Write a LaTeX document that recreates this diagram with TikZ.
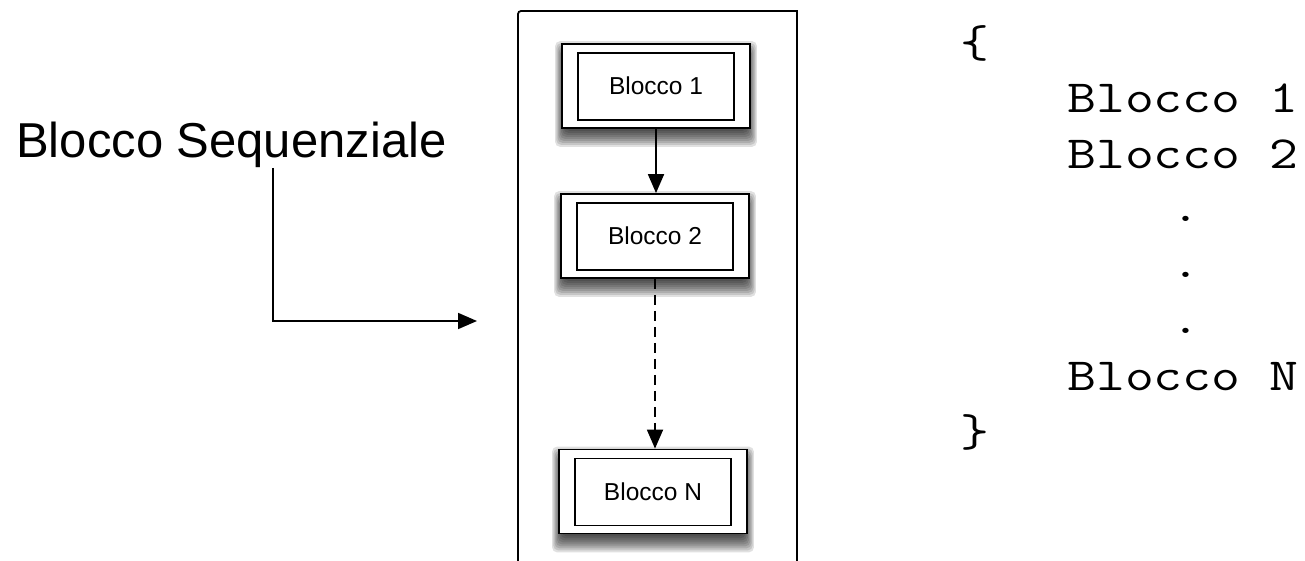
\documentclass[tikz,border=0pt]{standalone}
\usepackage{fontspec}
\setmainfont{Liberation Sans}
\newfontfamily\codefont[FakeStretch=1.22]{Latin Modern Mono}
\usetikzlibrary{arrows.meta,calc}
\pgfdeclarelayer{background}
\pgfsetlayers{background,main}

% soft drop shadow under a block, strongest below it
\newcommand{\blockshadow}[1]{%
  \foreach \k in {0,...,10}{%
    \pgfmathsetmacro\e{10-2*\k}%
    \pgfmathsetmacro\h{0.6*\e}%
    \fill[black,opacity=0.12,rounded corners=5pt]
      ($(#1.north west)+(-\h,-\e+8)$) rectangle ($(#1.south east)+(\h,\e+8)$);
  }%
}

\tikzset{
  blockbox/.style={draw, line width=1.8pt, fill=white, inner sep=0pt,
    minimum width=188pt, minimum height=84pt,
    font=\fontsize{24.5}{28}\selectfont,
    path picture={\draw[line width=1.4pt]
      ($(path picture bounding box.north west)+(16pt,-9pt)$) rectangle
      ($(path picture bounding box.south east)+(-16pt,8pt)$);}},
  conn/.style={line width=1.8pt, -{Triangle[length=19pt,width=16pt]}},
  dashconn/.style={conn, dash pattern=on 10pt off 6pt},
  frame/.style={line width=1.8pt},
  code/.style={anchor=base west, inner sep=0pt, font=\codefont\fontsize{46}{55.5}\selectfont},
  title/.style={anchor=base west, inner sep=0pt, font=\fontsize{49}{56}\selectfont}
}

\begin{document}
\begin{tikzpicture}[x=1pt,y=-1pt]
  \useasboundingbox (0,0) rectangle (1305,561);
  \clip (0,0) rectangle (1305,561);

  % container of the sequential block (open at the bottom)
  \draw[frame] (518,575) [rounded corners=3pt]-- (518,11) [sharp corners]-- (797,11) -- (797,575);

  % blocks
  \node[blockbox] (b1) at (656,86) {Blocco 1};
  \node[blockbox] (b2) at (655,236) {Blocco 2};
  \node[blockbox] (bN) at (653,491.5) {Blocco N};

  \begin{pgfonlayer}{background}
    \blockshadow{b1}
    \blockshadow{b2}
    \blockshadow{bN}
  \end{pgfonlayer}

  \draw[conn] (b1.south) -- (b1.south |- b2.north);
  \draw[dashconn] (b2.south) -- (b2.south |- bN.north);

  % label with its pointer
  \node[title] (lbl) at (16,158) {Blocco Sequenziale};
  \coordinate (lstart) at (273,168);
  \coordinate (lend) at (477,321);
  \draw[conn] (lstart) |- (lend);

  % code listing
  \node[code] (c0) at (960,57.5) {\{};
  \node[code] (c1) at (1067,113) {Blocco 1};
  \node[code] (c2) at (1067,168.5) {Blocco 2};
  \node[code] (c3) at (1171,222) {.};
  \node[code] (c4) at (1171,277.5) {.};
  \node[code] (c5) at (1171,333) {.};
  \node[code] (c6) at (1067,390.5) {Blocco N};
  \node[code] (c7) at (960,446) {\}};
\end{tikzpicture}
\end{document}
